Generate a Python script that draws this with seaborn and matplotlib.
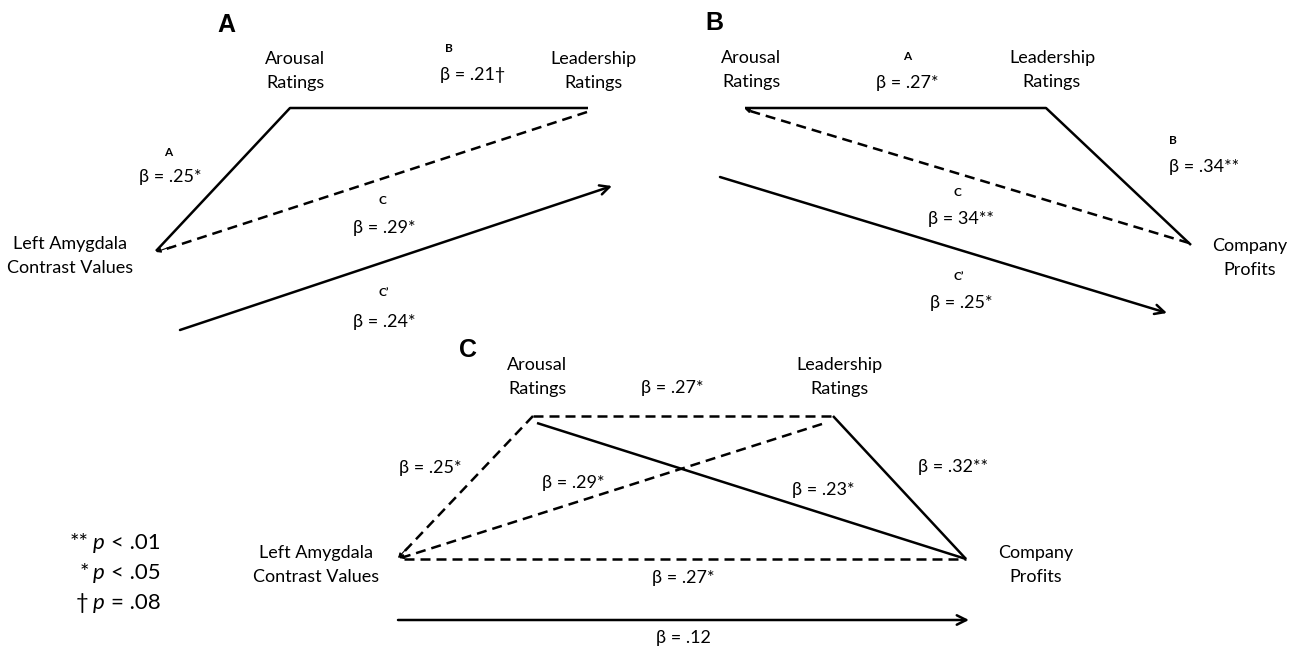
import matplotlib
matplotlib.use("Agg")
import matplotlib.pyplot as plt
import seaborn as sns
import pandas as pd

# ---------------- data ----------------
node_arousal = "Arousal\nRatings"
node_leader = "Leadership\nRatings"
node_amyg = "Left Amygdala\nContrast Values"
node_profit = "Company\nProfits"

panel_letters = ["A", "B", "C"]

# Panel A path names and coefficients
a_paths = ["A", "B", "C", "C\u2019"]
a_betas = ["\u03b2 = .25*", "\u03b2 = .21\u2020", "\u03b2 = .29*", "\u03b2 = .24*"]

# Panel B path names and coefficients
b_paths = ["A", "B", "C", "C\u2019"]
b_betas = ["\u03b2 = .27*", "\u03b2 = .34**", "\u03b2 = 34**", "\u03b2 = .25*"]

# Panel C coefficients
c_betas = ["\u03b2 = .27*", "\u03b2 = .25*", "\u03b2 = .29*", "\u03b2 = .32**",
           "\u03b2 = .23*", "\u03b2 = .27*", "\u03b2 = .12"]

# significance legend
legend_marks = ["**", "*", "\u2020"]
legend_tests = ["< .01", "< .05", "= .08"]

# ---------------- layout (pixel space) ----------------
sns.set_theme(style="white")
plt.rcParams["font.family"] = ["Lato", "DejaVu Sans"]
plt.rcParams["text.color"] = "black"

fig = plt.figure(figsize=(12.96, 6.48), dpi=100)
ax = fig.add_axes([0, 0, 1, 1])
ax.set_xlim(0, 1296)
ax.set_ylim(648, 0)
ax.axis("off")

LW = 1.8
NODE_FS = 13
BETA_FS = 13
PATH_FS = 8.5
BIG_FS = 18
DASH = [4.0, 2.4]


def seg(points, dashed=False):
    df = pd.DataFrame({"x": [p[0] for p in points], "y": [p[1] for p in points]})
    sns.lineplot(data=df, x="x", y="y", sort=False, estimator=None,
                 color="black", lw=LW, ax=ax, legend=False)
    ln = ax.lines[-1]
    if dashed:
        ln.set_dashes(DASH)
    ln.set_solid_capstyle("butt")
    ln.set_dash_capstyle("butt")


def arrow(p0, p1, size=17):
    ax.annotate("", xy=p1, xytext=p0,
                arrowprops=dict(arrowstyle="->", lw=LW, color="black",
                                mutation_scale=size, shrinkA=0, shrinkB=0))


def tip(p0, p1):
    ax.annotate("", xy=p1, xytext=p0,
                arrowprops=dict(arrowstyle="-|>", lw=0.8, color="black",
                                mutation_scale=7, shrinkA=0, shrinkB=0))


def node(x, y, s):
    ax.text(x, y, s, ha="center", va="center", fontsize=NODE_FS,
            linespacing=1.6, color="black")


def lab(x, y, s, fs=BETA_FS, bold=False):
    ax.text(x, y, s, ha="center", va="center", fontsize=fs,
            fontweight="bold" if bold else "normal", color="black")


def big(x, y, s):
    ax.text(x, y, s, ha="center", va="center", fontsize=BIG_FS,
            fontweight="bold", color="black",
            family=["Liberation Sans", "DejaVu Sans"])


# ---------- Panel A ----------
big(226, 25, panel_letters[0])
node(295, 71, node_arousal)
node(593, 71, node_leader)
node(70, 256, node_amyg)
seg([(156, 251), (290, 108), (588, 108)])
seg([(587, 112), (160, 251)], dashed=True)
tip((170, 247), (156, 252))
arrow((180, 330), (612, 186))
lab(168, 152, a_paths[0], PATH_FS, True)
lab(170, 177, a_betas[0])
lab(449, 48, a_paths[1], PATH_FS, True)
lab(473, 75, a_betas[1])
lab(382, 200, a_paths[2], PATH_FS, True)
lab(384, 228, a_betas[2])
lab(384, 293, a_paths[3], PATH_FS, True)
lab(384, 322, a_betas[3])

# ---------- Panel B ----------
big(714, 23, panel_letters[1])
node(751, 70, node_arousal)
node(1052, 70, node_leader)
node(1250, 258, node_profit)
seg([(745, 108), (1046, 108), (1191, 245)])
seg([(1189, 243), (750, 111)], dashed=True)
tip((757, 113), (745, 109))
arrow((720, 177), (1167, 313))
lab(907, 57, b_paths[0], PATH_FS, True)
lab(907, 83, b_betas[0])
lab(1173, 141, b_paths[1], PATH_FS, True)
lab(1204, 167, b_betas[1])
lab(957, 193, b_paths[2], PATH_FS, True)
lab(961, 219, b_betas[2])
lab(959, 276, b_paths[3], PATH_FS, True)
lab(961, 303, b_betas[3])

# ---------- Panel C ----------
big(468, 350, panel_letters[2])
node(537, 377, node_arousal)
node(839, 377, node_leader)
node(316, 565, node_amyg)
node(1036, 565, node_profit)
seg([(533, 416), (833, 416)], dashed=True)
seg([(533, 416), (402, 554)], dashed=True)
tip((407, 548), (398, 558))
seg([(822, 424), (404, 557)], dashed=True)
tip((410, 555), (399, 558))
seg([(404, 559), (966, 559)], dashed=True)
seg([(537, 423), (966, 559)])
seg([(833, 416), (966, 559)])
arrow((398, 620), (969, 620))
lab(672, 388, c_betas[0])
lab(430, 468, c_betas[1])
lab(573, 483, c_betas[2])
lab(953, 467, c_betas[3])
lab(823, 490, c_betas[4])
lab(683, 578, c_betas[5])
lab(683, 638, c_betas[6])

# ---------- significance legend ----------
LEG_FS = 16
for i, (m, t) in enumerate(zip(legend_marks, legend_tests)):
    y = 543 + i * 30
    ax.text(89, y, m, ha="right", va="center", fontsize=LEG_FS)
    ax.text(105, y, "p", ha="right", va="center", fontsize=LEG_FS, style="italic")
    ax.text(111, y, t, ha="left", va="center", fontsize=LEG_FS)

fig.savefig("out.png", dpi=100, facecolor="white")
